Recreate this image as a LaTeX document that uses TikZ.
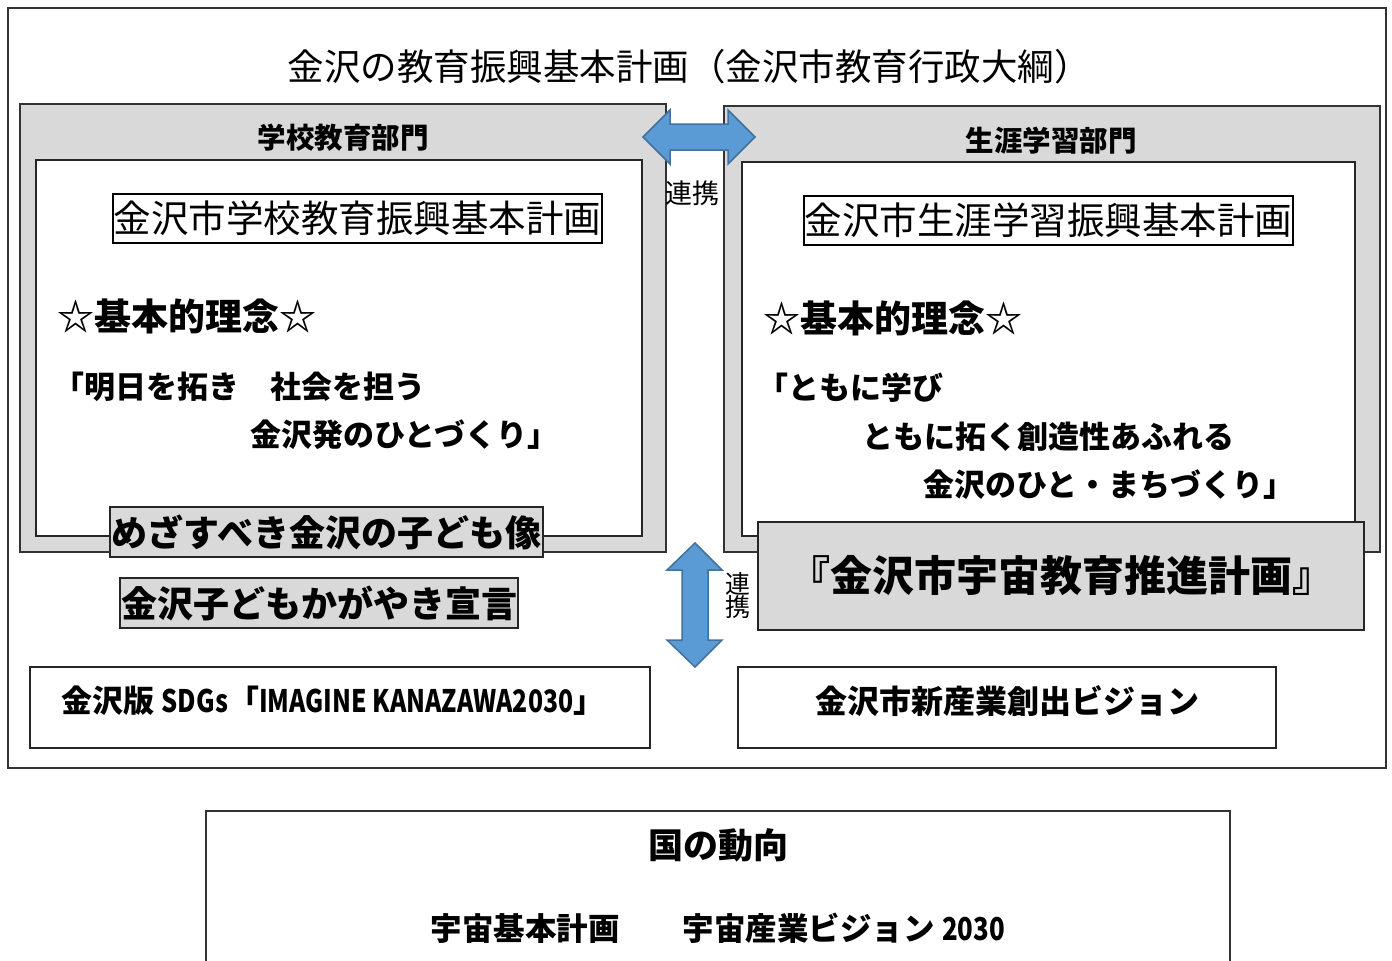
\documentclass[tikz,border=0pt]{standalone}
\usepackage{fontspec}
\setmainfont{Noto Sans CJK JP}
\definecolor{panelgray}{HTML}{D9D9D9}
\definecolor{arrowfill}{HTML}{5B9BD5}
\definecolor{arrowline}{HTML}{41719C}
\newcommand{\fsz}[1]{\fontsize{#1}{#1}\selectfont}
\tikzset{
  frame/.style={draw=black!80, line width=1.2pt},
  panel/.style={draw=black!80, fill=panelgray, line width=1.2pt},
  whitebox/.style={draw=black!85, fill=white, line width=1.2pt},
  plan/.style={draw=black, fill=white, line width=1.8pt, inner sep=0pt, minimum height=49pt, font=\fsz{37.5}},
  graybox/.style={draw=black!85, fill=panelgray, line width=1.4pt, inner sep=0pt, font=\fsz{36}\bfseries},
  lbl/.style={inner sep=0pt, font=\fsz{31}\bfseries},
  blue arrow/.style={draw=arrowline, fill=arrowfill, line width=1.5pt, line join=miter},
}
\begin{document}
\begin{tikzpicture}[x=1pt,y=-1pt]
\useasboundingbox (0,0) rectangle (1392,961);
% outer frame
\draw[frame] (8,8) rectangle (1386,768);
\node[inner sep=0pt, font=\fsz{36.5}] (title) at (689,67) {金沢の教育振興基本計画（金沢市教育行政大綱）};

% left panel
\draw[panel] (20,104) rectangle (666,552);
\node[inner sep=0pt, font=\fsz{28.5}\bfseries] (lhead) at (343,138) {学校教育部門};
\draw[whitebox] (36,160) rectangle (642,536);
\node[plan, minimum width=489pt] (lplan) at (357.5,218.5) {金沢市学校教育振興基本計画};
\node[lbl, anchor=west, font=\fsz{37}\bfseries] (lrinen) at (57,316) {☆基本的理念☆};
\node[lbl, anchor=west] (l1) at (53,387) {「明日を拓き　社会を担う};
\node[lbl, anchor=west] (l2) at (250,435) {金沢発のひとづくり」};
\node[graybox, minimum width=433pt, minimum height=50pt] (kodomo) at (326.5,532) {めざすべき金沢の子ども像};
\node[graybox, minimum width=398pt, minimum height=50pt] (sengen) at (319,603) {金沢子どもかがやき宣言};

% right panel
\draw[panel] (724,106) rectangle (1380,552);
\node[inner sep=0pt, font=\fsz{28.5}\bfseries] (rhead) at (1051,141) {生涯学習部門};
\draw[whitebox] (742,162) rectangle (1355,536);
\node[plan, minimum width=489pt] (rplan) at (1048.5,220.5) {金沢市生涯学習振興基本計画};
\node[lbl, anchor=west, font=\fsz{37}\bfseries] (rrinen) at (763,318) {☆基本的理念☆};
\node[lbl, anchor=west] (r1) at (757,388) {「ともに学び};
\node[lbl, anchor=west] (r2) at (862,437) {ともに拓く創造性あふれる};
\node[lbl, anchor=west] (r3) at (923,485) {金沢のひと・まちづくり」};
\node[graybox, minimum width=606pt, minimum height=108pt, font=\fsz{42}\bfseries] (uchu) at (1061,576) {『金沢市宇宙教育推進計画』};

% horizontal link arrow
\coordinate (hL) at (643,137);
\coordinate (hR) at (755,137);
\draw[blue arrow] (hL) -- (670,110) -- (670,124) -- (728,124) -- (728,110) -- (hR)
  -- (728,164) -- (728,150) -- (670,150) -- (670,164) -- cycle;
\node[inner sep=0pt, font=\fsz{27}] (renkei1) at (692,193) {連携};

% vertical link arrow
\coordinate (vT) at (695,543);
\coordinate (vB) at (695,667);
\draw[blue arrow] (vT) -- (722,570) -- (708,570) -- (708,640) -- (722,640) -- (vB)
  -- (667,640) -- (682,640) -- (682,570) -- (667,570) -- cycle;
\node[inner sep=0pt, font=\fsz{25}, align=center] (renkei2) at (738,596) {連\\[-2pt]携};

% bottom row boxes
\draw[whitebox] (30,667) rectangle (650,748);
\node[lbl, font=\fsz{31}\bfseries] (sdgs) at (333,701) {金沢版 \scalebox{0.82}[1]{SDGs}「\scalebox{0.8}[1]{IMAGINE KANAZAWA2030}」};
\draw[whitebox] (738,667) rectangle (1276,748);
\node[lbl, font=\fsz{32}\bfseries] (vision) at (1007,701) {金沢市新産業創出ビジョン};

% national trends box (open at bottom)
\draw[frame] (206,962) -- (206,811) -- (1230,811) -- (1230,962);
\node[inner sep=0pt, font=\fsz{35}\bfseries] (kuni) at (718,845) {国の動向};
\node[lbl, font=\fsz{31.5}\bfseries] (uchu2) at (718,928) {宇宙基本計画　　宇宙産業ビジョン \scalebox{0.82}[1]{2030}};
\end{tikzpicture}
\end{document}
